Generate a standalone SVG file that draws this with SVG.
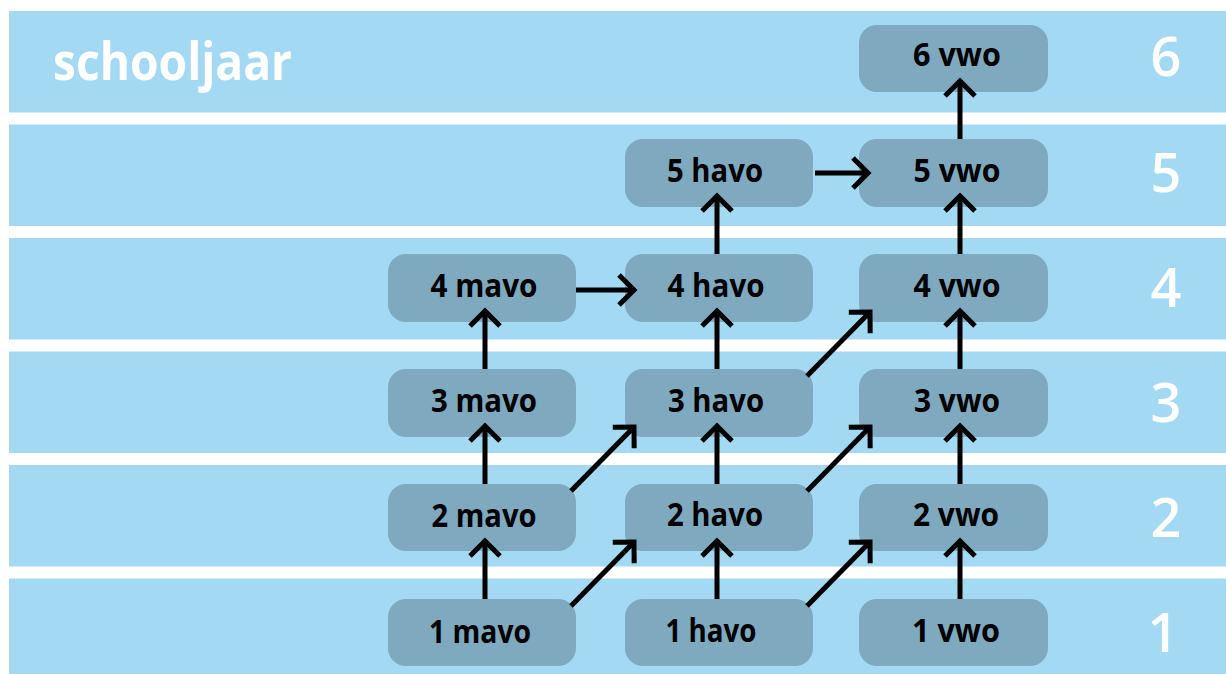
<svg xmlns="http://www.w3.org/2000/svg" width="1226" height="674" viewBox="0 0 1226 674">
<style>
.band{fill:#A3D9F2}
.node rect{fill:#7EA9BE}
.node text{font-family:"Open Sans","Noto Sans",sans-serif;font-weight:700;font-size:33px;fill:#000;text-anchor:middle}
.year{font-family:"Open Sans","Noto Sans",sans-serif;font-weight:600;font-size:54px;fill:#fff;text-anchor:middle}
.title{font-family:"Open Sans","Noto Sans",sans-serif;font-weight:700;font-size:52px;fill:#fff}
#connectors line{stroke:#000;stroke-width:5;fill:none;marker-end:url(#arr)}
</style>
<defs>
<marker id="arr" markerUnits="userSpaceOnUse" viewBox="-20 -20 40 40" markerWidth="40" markerHeight="40" refX="0" refY="0" orient="auto">
<path d="M-15,-15 L0,0 L-15,15" fill="none" stroke="#000" stroke-width="5" stroke-linejoin="miter"/>
</marker>
</defs>
<rect width="1226" height="674" fill="#fff"/>
<g id="bands">
<rect class="band" x="9" y="11" width="1230" height="101.5"/>
<rect class="band" x="9" y="124.5" width="1230" height="101.5"/>
<rect class="band" x="9" y="238" width="1230" height="101.5"/>
<rect class="band" x="9" y="351.5" width="1230" height="101.5"/>
<rect class="band" x="9" y="465" width="1230" height="101.5"/>
<rect class="band" x="9" y="578.5" width="1230" height="101.5"/>
</g>
<text class="title" x="53" y="80" textLength="239" lengthAdjust="spacingAndGlyphs">schooljaar</text>
<g id="years">
<text class="year" x="1166" y="76">6</text>
<text class="year" x="1166" y="192">5</text>
<text class="year" x="1166" y="307">4</text>
<text class="year" x="1166" y="422">3</text>
<text class="year" x="1166" y="537">2</text>
<text class="year" x="1163" y="652">1</text>
</g>
<g id="n6vwo" class="node"><rect x="859" y="25" width="189" height="67" rx="18"/><text x="957" y="66" textLength="88" lengthAdjust="spacingAndGlyphs">6 vwo</text></g>
<g id="n5havo" class="node"><rect x="625" y="139" width="188" height="68" rx="18"/><text x="715" y="182" textLength="96" lengthAdjust="spacingAndGlyphs">5 havo</text></g>
<g id="n5vwo" class="node"><rect x="859" y="139" width="189" height="68" rx="18"/><text x="957" y="182" textLength="87" lengthAdjust="spacingAndGlyphs">5 vwo</text></g>
<g id="n4mavo" class="node"><rect x="388" y="254" width="188" height="68" rx="18"/><text x="484" y="297" textLength="107" lengthAdjust="spacingAndGlyphs">4 mavo</text></g>
<g id="n4havo" class="node"><rect x="625" y="254" width="188" height="68" rx="18"/><text x="716" y="297" textLength="97" lengthAdjust="spacingAndGlyphs">4 havo</text></g>
<g id="n4vwo" class="node"><rect x="859" y="254" width="189" height="68" rx="18"/><text x="957" y="297" textLength="87" lengthAdjust="spacingAndGlyphs">4 vwo</text></g>
<g id="n3mavo" class="node"><rect x="388" y="369" width="188" height="68" rx="18"/><text x="484" y="412" textLength="106" lengthAdjust="spacingAndGlyphs">3 mavo</text></g>
<g id="n3havo" class="node"><rect x="625" y="369" width="188" height="68" rx="18"/><text x="716" y="412" textLength="96" lengthAdjust="spacingAndGlyphs">3 havo</text></g>
<g id="n3vwo" class="node"><rect x="859" y="369" width="189" height="68" rx="18"/><text x="957" y="412" textLength="86" lengthAdjust="spacingAndGlyphs">3 vwo</text></g>
<g id="n2mavo" class="node"><rect x="388" y="484" width="188" height="67" rx="18"/><text x="484" y="527" textLength="105" lengthAdjust="spacingAndGlyphs">2 mavo</text></g>
<g id="n2havo" class="node"><rect x="625" y="484" width="188" height="67" rx="18"/><text x="715" y="526" textLength="96" lengthAdjust="spacingAndGlyphs">2 havo</text></g>
<g id="n2vwo" class="node"><rect x="859" y="484" width="189" height="67" rx="18"/><text x="956" y="526" textLength="86" lengthAdjust="spacingAndGlyphs">2 vwo</text></g>
<g id="n1mavo" class="node"><rect x="388" y="599" width="188" height="67" rx="18"/><text x="480" y="643" textLength="102" lengthAdjust="spacingAndGlyphs">1 mavo</text></g>
<g id="n1havo" class="node"><rect x="625" y="599" width="188" height="67" rx="18"/><text x="711" y="642" textLength="91" lengthAdjust="spacingAndGlyphs">1 havo</text></g>
<g id="n1vwo" class="node"><rect x="859" y="599" width="189" height="67" rx="18"/><text x="956" y="642" textLength="88" lengthAdjust="spacingAndGlyphs">1 vwo</text></g>
<g id="connectors">
<line x1="485" y1="599" x2="485" y2="541"/>
<line x1="485" y1="484" x2="485" y2="426"/>
<line x1="485" y1="369" x2="485" y2="311"/>
<line x1="717" y1="599" x2="717" y2="541"/>
<line x1="717" y1="484" x2="717" y2="426"/>
<line x1="717" y1="369" x2="717" y2="311"/>
<line x1="717" y1="254" x2="717" y2="196"/>
<line x1="960" y1="599" x2="960" y2="541"/>
<line x1="960" y1="484" x2="960" y2="426"/>
<line x1="960" y1="369" x2="960" y2="311"/>
<line x1="960" y1="254" x2="960" y2="196"/>
<line x1="960" y1="139" x2="960" y2="81"/>
<line x1="576" y1="290" x2="634" y2="290"/>
<line x1="815" y1="173" x2="868" y2="173"/>
<line x1="571" y1="606" x2="634" y2="542"/>
<line x1="571" y1="491" x2="634" y2="427"/>
<line x1="807" y1="606" x2="870" y2="542"/>
<line x1="807" y1="491" x2="870" y2="427"/>
<line x1="807" y1="376" x2="870" y2="312"/>
</g>
</svg>
